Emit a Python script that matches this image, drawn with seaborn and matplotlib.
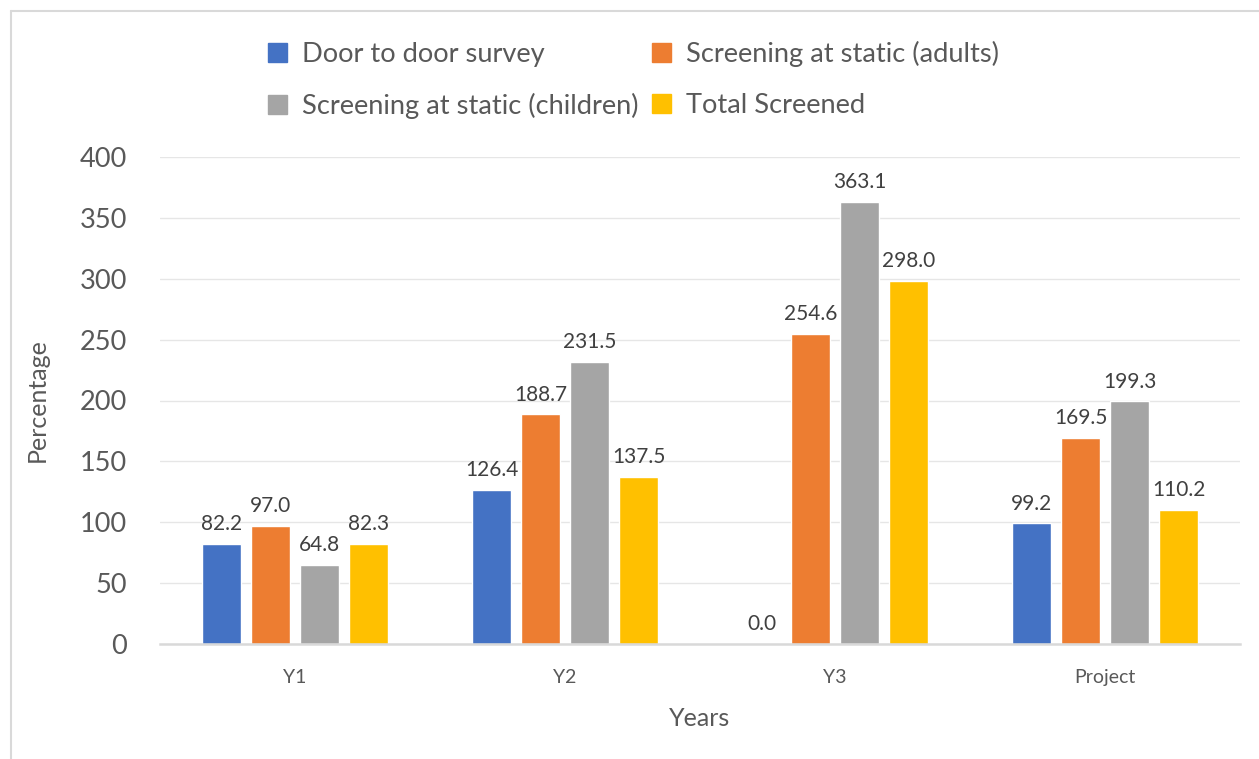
import matplotlib
matplotlib.use("Agg")
import matplotlib.pyplot as plt
from matplotlib.lines import Line2D
from matplotlib.patches import Patch
import seaborn as sns
import pandas as pd

years = ["Y1", "Y2", "Y3", "Project"]
series = ["Door to door survey", "Screening at static (adults)",
          "Screening at static (children)", "Total Screened"]
door = [82.2, 126.4, 0.0, 99.2]
adults = [97.0, 188.7, 254.6, 169.5]
children = [64.8, 231.5, 363.1, 199.3]
total = [82.3, 137.5, 298.0, 110.2]
colors = ["#4472C4", "#ED7D31", "#A5A5A5", "#FFC000"]

rows = []
for name, vals in zip(series, [door, adults, children, total]):
    for y, v in zip(years, vals):
        rows.append({"Years": y, "Percentage": v, "Series": name})
df = pd.DataFrame(rows)

sns.set_theme(style="white")
plt.rcParams["font.family"] = ["Lato", "DejaVu Sans"]
text_col = "#595959"

fig = plt.figure(figsize=(12.59, 7.59), dpi=100)
ax = fig.add_axes([160 / 1259, 1 - 644 / 759, 1080 / 1259, (644 - 157) / 759])

sns.barplot(data=df, x="Years", y="Percentage", hue="Series", order=years,
            hue_order=series, palette=colors, saturation=1, width=0.726,
            gap=0.22, ax=ax, legend=False)

ax.set_ylim(0, 400)
ax.set_yticks(range(0, 401, 50))
ax.set_xlim(-0.5, 3.5)
ax.grid(axis="y", color="#e6e6e6", linewidth=1)
ax.set_axisbelow(True)
for s in ["top", "right", "left"]:
    ax.spines[s].set_visible(False)
ax.spines["bottom"].set_color("#d9d9d9")
ax.spines["bottom"].set_linewidth(1.8)
ax.tick_params(axis="y", labelsize=19.5, colors=text_col, length=0, pad=24)
ax.tick_params(axis="x", labelsize=14, colors=text_col, length=0, pad=18)
ax.set_ylabel("Percentage", fontsize=18, color=text_col, labelpad=22)
ax.set_xlabel("Years", fontsize=18, color=text_col, labelpad=15)

for cont in ax.containers:
    ax.bar_label(cont, fmt="%.1f", padding=7, fontsize=15, color="#404040")

handles = [Patch(color=c) for c in colors]
order = [0, 2, 1, 3]
fig.legend([handles[i] for i in order], [series[i] for i in order],
           ncol=2, loc="upper left", bbox_to_anchor=(243 / 1259, 1 - 16 / 759),
           frameon=False, fontsize=19.6, labelcolor=text_col,
           handlelength=0.7, handleheight=0.7, handletextpad=0.55,
           columnspacing=0.5, labelspacing=0.97)

border = "#d9d9d9"
fig.add_artist(Line2D([11 / 1259, 11 / 1259], [0, 1 - 11 / 759], color=border, lw=1.5))
fig.add_artist(Line2D([11 / 1259, 1], [1 - 11 / 759, 1 - 11 / 759], color=border, lw=1.5))

fig.savefig("out.png", dpi=100, facecolor="white")
